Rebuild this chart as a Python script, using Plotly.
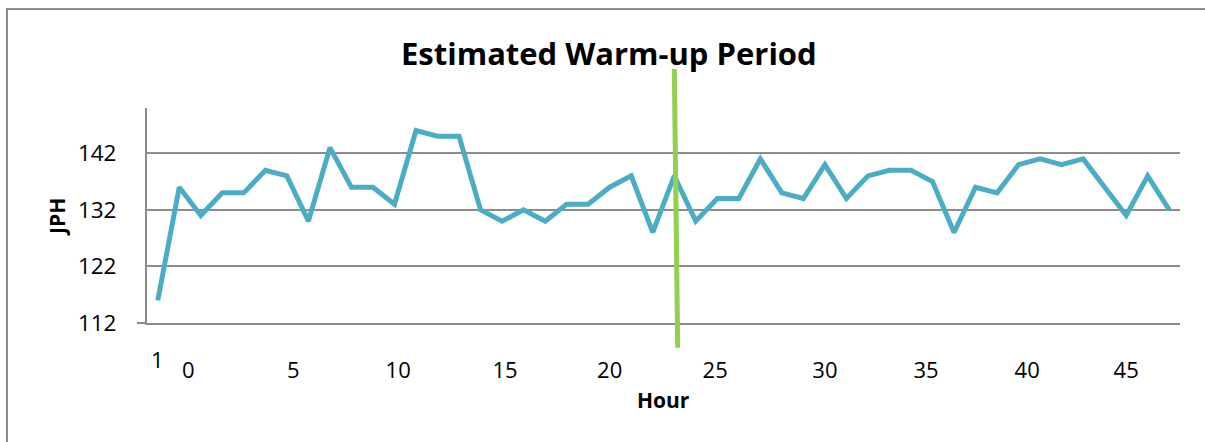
import plotly.graph_objects as go

# Hourly throughput (jobs per hour)
jph = [116, 136, 131, 135, 135, 139, 138, 130, 143, 136, 136, 133,
       146, 145, 145, 132, 130, 132, 130, 133, 133, 136, 138, 128,
       138, 130, 134, 134, 141, 135, 134, 140, 134, 138, 139, 139,
       137, 128, 136, 135, 140, 141, 140, 141, 136, 131, 138, 132]
hours = list(range(len(jph)))

# Hour labels under the axis (position in hour units, text)
hour_tick_pos = [1.42, 6.3, 11.17, 16.14, 21.0, 25.9, 31.0, 35.7, 40.4, 45.0]
hour_tick_text = ["0", "5", "10", "15", "20", "25", "30", "35", "40", "45"]
first_label = "1"

y_ticks = [112, 122, 132, 142]

GRID = "#8c8c8c"
FONT = "Open Sans"

# plot area geometry in pixels
W, H = 1205, 442
L, R, T, B = 147, 25, 108, 119
pw = W - L - R
ph = H - T - B


def px_x(x):
    return (x - L) / pw


def px_y(y):
    return (H - B - y) / ph


fig = go.Figure()
fig.add_trace(go.Scatter(
    x=hours, y=jph, mode="lines",
    line=dict(color="#4BACC6", width=5),
    hoverinfo="skip", showlegend=False,
))

fig.update_layout(
    width=W, height=H,
    margin=dict(l=L, r=R, t=T, b=B, pad=0),
    paper_bgcolor="white", plot_bgcolor="white",
    font=dict(family=FONT, color="black", size=22),
    xaxis=dict(
        range=[-0.5, len(jph) - 0.5],
        tickmode="array", tickvals=hour_tick_pos, ticktext=hour_tick_text,
        ticks="", ticklabelstandoff=27,
        showgrid=False, zeroline=False,
        showline=True, linecolor=GRID, linewidth=2,
        tickfont=dict(size=22),
    ),
    yaxis=dict(
        range=[112, 150],
        tickmode="array", tickvals=y_ticks,
        ticks="", ticklabelstandoff=24,
        showgrid=True, gridcolor=GRID, gridwidth=2,
        zeroline=False,
        showline=True, linecolor=GRID, linewidth=2,
        tickfont=dict(size=22.5),
    ),
    annotations=[
        dict(text="<b>Estimated Warm-up Period</b>", xref="paper", yref="paper",
             x=px_x(609), y=px_y(53), xanchor="center", yanchor="middle",
             showarrow=False, font=dict(size=31, family=FONT)),
        dict(text="<b>JPH</b>", xref="paper", yref="paper",
             x=px_x(57), y=px_y(217), xanchor="center", yanchor="middle",
             textangle=-90, showarrow=False, font=dict(size=21, family=FONT)),
        dict(text="<b>Hour</b>", xref="paper", yref="paper",
             x=px_x(663), y=px_y(400), xanchor="center", yanchor="middle",
             showarrow=False, font=dict(size=21, family=FONT)),
        dict(text=first_label, xref="x", yref="paper",
             x=hours[0], y=px_y(359), xanchor="center", yanchor="middle",
             showarrow=False, font=dict(size=22, family=FONT)),
    ],
    shapes=[
        # chart frame
        dict(type="rect", xref="paper", yref="paper",
             x0=px_x(7), y0=px_y(9), x1=px_x(1260), y1=px_y(500),
             line=dict(color=GRID, width=2), fillcolor="rgba(0,0,0,0)"),
        # small stub of the baseline left of the value axis
        dict(type="line", xref="paper", yref="paper",
             x0=px_x(137), y0=0, x1=0, y1=0,
             line=dict(color=GRID, width=2)),
        # warm-up cutoff marker
        dict(type="line", xref="paper", yref="paper",
             x0=px_x(674.3), y0=px_y(69), x1=px_x(677.7), y1=px_y(347.7),
             line=dict(color="#92D050", width=5)),
    ],
)

fig.write_html("out.html")
